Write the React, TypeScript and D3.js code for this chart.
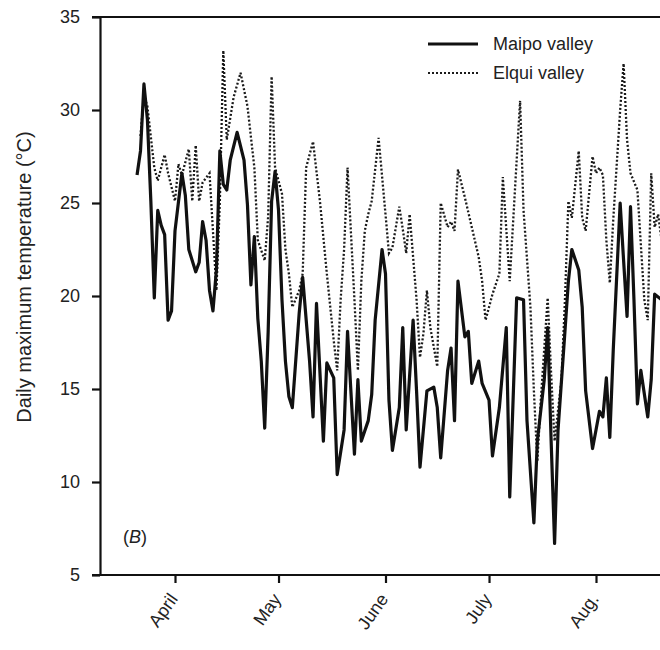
import React, { useEffect, useRef } from "react";
import { select, scaleLinear, scaleTime, axisLeft, axisBottom, line } from "d3";

const monthLabels = ["April", "May", "June", "July", "Aug."];
const monthIndex = [3, 4, 5, 6, 7];
const yTicks = [5, 10, 15, 20, 25, 30, 35];

// days counted from 1 April
const maipoDays = [
  -11, -10, -9, -8, -7, -6, -5, -4, -3, -2, -1, 0, 2, 3, 4, 6, 7, 8, 9, 10, 11, 12, 13, 14, 15, 16, 18, 20,
  21, 22, 23, 24, 25, 26, 27, 28, 29, 30, 31, 32, 33, 34, 36, 37, 39, 40, 41, 43, 44, 46, 47, 49, 50, 52,
  53, 54, 56, 57, 58, 60, 61, 62, 63, 65, 66, 67, 69, 70, 71, 73, 75, 76, 77, 79, 80, 81, 82, 84, 85, 86,
  88, 89, 91, 92, 94, 96, 97, 99, 101, 102, 104, 105, 107, 108, 109, 110, 111, 113, 114, 115, 117, 118,
  119, 121, 122, 123, 124, 125, 126, 127, 129, 130, 131, 132, 133, 134, 135, 137, 138, 139, 141,
];
const maipoTemps = [
  26.5, 27.8, 31.4, 29.5, 25.1, 19.9, 24.6, 23.8, 23.3, 18.7, 19.2, 23.5, 26.6, 25.4, 22.5, 21.3, 21.8, 24.0,
  23.0, 20.3, 19.2, 21.4, 27.8, 26.0, 25.7, 27.3, 28.8, 27.3, 24.9, 20.6, 23.2, 18.8, 16.5, 12.9, 18.1, 25.1,
  26.7, 24.6, 19.8, 16.5, 14.6, 14.0, 19.1, 21.0, 16.5, 13.5, 19.6, 12.2, 16.4, 15.6, 10.4, 12.8, 18.1, 11.5,
  15.5, 12.2, 13.3, 14.7, 18.7, 22.5, 21.2, 14.4, 11.7, 14.0, 18.3, 12.8, 18.7, 14.9, 10.8, 14.9, 15.1, 14.0,
  11.3, 16.0, 17.2, 13.3, 20.8, 17.8, 18.1, 15.3, 16.5, 15.3, 14.4, 11.4, 14.0, 18.3, 9.2, 19.9, 19.8, 13.3,
  7.8, 12.2, 15.5, 18.3, 12.2, 6.7, 12.8, 18.1, 20.8, 22.5, 21.4, 19.4, 14.9, 11.8, 12.8, 13.8, 13.5, 15.6,
  12.4, 17.1, 25.0, 21.9, 18.9, 24.8, 19.8, 14.2, 16.0, 13.5, 15.5, 20.1, 19.8,
];

const elquiDays = [
  -10, -9, -8, -6, -5, -3, -2, 0, 1, 2, 4, 5, 6, 7, 8, 10, 11, 12, 13, 14, 15, 17, 19, 21, 23, 24, 26, 27,
  28, 29, 31, 32, 33, 34, 36, 37, 38, 40, 42, 44, 46, 47, 48, 49, 50, 52, 53, 54, 55, 56, 57, 59, 61, 62,
  63, 65, 66, 67, 68, 70, 71, 72, 73, 74, 76, 77, 79, 80, 81, 82, 84, 86, 88, 89, 90, 92, 94, 95, 97, 100,
  101, 103, 104, 105, 106, 108, 109, 110, 112, 113, 114, 115, 117, 118, 119, 121, 122, 123, 124, 125, 126,
  127, 129, 130, 131, 132, 134, 136, 137, 138, 139, 140, 141,
];
const elquiTemps = [
  28.6, 30.8, 30.2, 26.9, 26.2, 27.6, 26.6, 25.1, 27.1, 26.5, 27.9, 25.1, 28.1, 25.1, 26.1, 26.6, 23.5, 20.3,
  25.1, 33.2, 28.4, 30.7, 32.0, 30.2, 26.9, 23.0, 21.9, 24.3, 31.8, 26.9, 25.5, 22.5, 21.2, 19.4, 20.3, 21.2,
  26.9, 28.3, 25.1, 21.2, 17.6, 16.0, 19.8, 22.5, 26.9, 19.8, 16.0, 20.8, 23.5, 24.4, 25.1, 28.5, 24.4, 22.3,
  22.6, 24.8, 23.6, 22.3, 24.4, 19.8, 16.7, 18.0, 20.3, 18.3, 16.2, 25.0, 23.7, 24.0, 23.5, 26.8, 25.3, 23.7,
  22.1, 20.8, 18.7, 20.1, 21.2, 26.4, 20.8, 30.5, 24.6, 19.4, 14.9, 11.1, 14.4, 19.9, 15.8, 12.2, 15.5, 19.8,
  25.1, 24.2, 27.8, 24.2, 23.5, 27.5, 26.6, 26.9, 26.5, 23.0, 20.7, 24.1, 30.0, 32.5, 28.4, 26.6, 25.7, 19.8,
  18.7, 26.6, 23.7, 24.4, 23.0,
];

const year = 2005;
const dayToDate = (d: number) => new Date(year, 3, 1 + d);

const width = 660;
const height = 650;
const font = "'Liberation Sans', Arial, Helvetica, sans-serif";

const TempChart = () => {
  const svgRef = useRef<SVGSVGElement>(null);

  useEffect(() => {
    const svg = select(svgRef.current);
    svg.selectAll("*").remove();

    const x = scaleTime()
      .domain([new Date(year, 3, 1), new Date(year, 7, 1)])
      .range([175, 596]);
    const y = scaleLinear().domain([5, 35]).range([575, 17]);

    // frame: top line and bottom axis line
    svg.append("line")
      .attr("x1", 92).attr("x2", width).attr("y1", y(35)).attr("y2", y(35))
      .attr("stroke", "#111").attr("stroke-width", 2.2);
    svg.append("line")
      .attr("x1", 92).attr("x2", width).attr("y1", y(5)).attr("y2", y(5))
      .attr("stroke", "#111").attr("stroke-width", 2.2);

    const yAxis = axisLeft(y).tickValues(yTicks).tickSize(8).tickSizeOuter(0).tickPadding(12);
    const gy = svg.append("g").attr("transform", "translate(100,0)").call(yAxis);
    gy.select(".domain").attr("stroke", "#111").attr("stroke-width", 2.2);
    gy.selectAll(".tick line").attr("stroke", "#111").attr("stroke-width", 2.2);
    gy.selectAll(".tick text")
      .attr("font-family", font).attr("font-size", 18).attr("fill", "#222");

    const monthDates = monthIndex.map((m) => new Date(year, m, 1));
    const xAxis = axisBottom(x)
      .tickValues(monthDates)
      .tickSize(8)
      .tickSizeOuter(0)
      .tickFormat((_d, i) => monthLabels[i]);
    const gx = svg.append("g").attr("transform", `translate(0,${y(5)})`).call(xAxis);
    gx.select(".domain").remove();
    gx.selectAll(".tick line").attr("stroke", "#111").attr("stroke-width", 2.2);
    gx.selectAll(".tick text")
      .attr("font-family", font).attr("font-size", 18).attr("fill", "#222")
      .attr("text-anchor", "end")
      .attr("dy", null)
      .attr("y", 0)
      .attr("transform", "translate(3,24) rotate(-55)");

    svg.append("text")
      .attr("transform", `translate(31,277) rotate(-90)`)
      .attr("text-anchor", "middle")
      .attr("font-family", font).attr("font-size", 20).attr("fill", "#222")
      .text("Daily maximum temperature (°C)");

    const lab = svg.append("text")
      .attr("x", 123).attr("y", 543)
      .attr("font-family", font).attr("font-size", 18).attr("fill", "#222");
    lab.append("tspan").text("(");
    lab.append("tspan").attr("font-style", "italic").text("B");
    lab.append("tspan").text(")");

    const path = line<[number, number]>()
      .x((d) => x(dayToDate(d[0])))
      .y((d) => y(d[1]));

    const elqui = elquiDays.map((d, i) => [d, elquiTemps[i]] as [number, number]);
    const maipo = maipoDays.map((d, i) => [d, maipoTemps[i]] as [number, number]);

    svg.append("path")
      .attr("d", path(elqui))
      .attr("fill", "none")
      .attr("stroke", "#1a1a1a")
      .attr("stroke-width", 2.3)
      .attr("stroke-dasharray", "2 2");

    svg.append("path")
      .attr("d", path(maipo))
      .attr("fill", "none")
      .attr("stroke", "#111")
      .attr("stroke-width", 3.2)
      .attr("stroke-linejoin", "round");

    // legend
    const lg = svg.append("g");
    lg.append("line")
      .attr("x1", 428).attr("x2", 478).attr("y1", 44).attr("y2", 44)
      .attr("stroke", "#111").attr("stroke-width", 3.2);
    lg.append("line")
      .attr("x1", 428).attr("x2", 478).attr("y1", 73).attr("y2", 73)
      .attr("stroke", "#1a1a1a").attr("stroke-width", 2).attr("stroke-dasharray", "2 2");
    lg.append("text")
      .attr("x", 493).attr("y", 50)
      .attr("font-family", font).attr("font-size", 18).attr("fill", "#222")
      .text("Maipo valley");
    lg.append("text")
      .attr("x", 493).attr("y", 79)
      .attr("font-family", font).attr("font-size", 18).attr("fill", "#222")
      .text("Elqui valley");
  }, []);

  return (
    <svg
      ref={svgRef}
      width={width}
      height={height}
      style={{ position: "absolute", left: 0, top: 0, background: "#fff" }}
    />
  );
};

export default function App() {
  return <TempChart />;
}
